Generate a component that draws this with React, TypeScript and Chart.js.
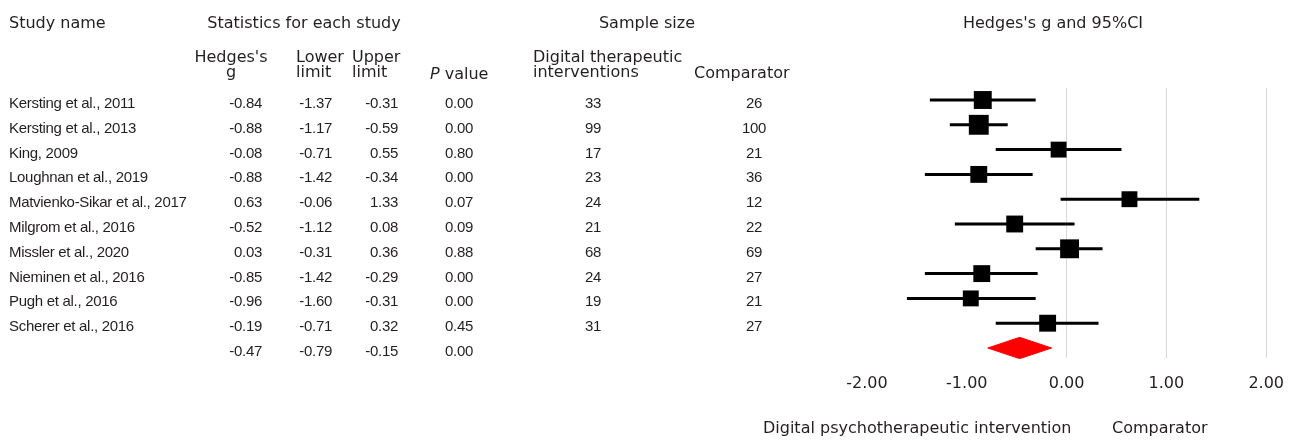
import React, { useEffect, useRef } from "react";
import { Chart, registerables } from "chart.js";

Chart.register(...registerables);

// ---------- data ----------
const studies = [
  "Kersting et al., 2011",
  "Kersting et al., 2013",
  "King, 2009",
  "Loughnan et al., 2019",
  "Matvienko-Sikar et al., 2017",
  "Milgrom et al., 2016",
  "Missler et al., 2020",
  "Nieminen et al., 2016",
  "Pugh et al., 2016",
  "Scherer et al., 2016",
];
const hedgesG = [-0.84, -0.88, -0.08, -0.88, 0.63, -0.52, 0.03, -0.85, -0.96, -0.19];
const lowerLimit = [-1.37, -1.17, -0.71, -1.42, -0.06, -1.12, -0.31, -1.42, -1.6, -0.71];
const upperLimit = [-0.31, -0.59, 0.55, -0.34, 1.33, 0.08, 0.36, -0.29, -0.31, 0.32];
const pValues = [0.0, 0.0, 0.8, 0.0, 0.07, 0.09, 0.88, 0.0, 0.0, 0.45];
const nDigital = [33, 99, 17, 23, 24, 21, 68, 24, 19, 31];
const nComparator = [26, 100, 21, 36, 12, 22, 69, 27, 21, 27];
// relative study weights (%)
const studyWeights = [10.8, 13.3, 8.5, 9.6, 8.5, 9.6, 12.0, 9.6, 8.5, 9.6];
const pooledG = -0.47;
const pooledLower = -0.79;
const pooledUpper = -0.15;
const pooledP = 0.0;
const xTicks = [-2, -1, 0, 1, 2];

// ---------- styles ----------
const INK = "#231f20";
const HEAD_FONT = '"DejaVu Sans", Verdana, Tahoma, sans-serif';
const BODY_FONT = '"Liberation Sans", Arial, sans-serif';
const ROW_H = 24.8;
const ROW0_TOP = 91;

function Txt(props: {
  x: number;
  y: number;
  align?: "left" | "center" | "right";
  lh?: number;
  body?: boolean;
  children: React.ReactNode;
}) {
  const { x, y, align = "left", lh = 16, body = false, children } = props;
  const transform =
    align === "center" ? "translateX(-50%)" : align === "right" ? "translateX(-100%)" : undefined;
  const fontStyle = body
    ? { fontFamily: BODY_FONT, fontSize: 15, letterSpacing: "-0.3px" }
    : { fontFamily: HEAD_FONT, fontSize: 16 };
  return (
    <div
      style={{
        position: "absolute",
        left: x,
        top: y,
        lineHeight: lh + "px",
        whiteSpace: "pre",
        textAlign: align,
        transform,
        color: INK,
        ...fontStyle,
      }}
    >
      {children}
    </div>
  );
}

export default function App() {
  const canvasRef = useRef<HTMLCanvasElement>(null);

  useEffect(() => {
    const pooledRow = studies.length;
    const ciData: { x: number; y: number }[] = [];
    studies.forEach((_, i) => {
      ciData.push({ x: lowerLimit[i], y: i });
      ciData.push({ x: upperLimit[i], y: i });
      ciData.push({ x: NaN, y: NaN });
    });
    const markerSide = (w: number) => Math.sqrt(w) * 5.45;

    const chart = new Chart(canvasRef.current as HTMLCanvasElement, {
      type: "scatter",
      data: {
        datasets: [
          {
            type: "scatter",
            label: "Hedges's g",
            data: hedgesG.map((g, i) => ({ x: g, y: i })),
            pointStyle: "rect",
            pointRadius: studyWeights.map((w) => markerSide(w) / Math.SQRT2),
            backgroundColor: "#000000",
            borderColor: "#000000",
            borderWidth: 0,
            order: 1,
            clip: false,
          } as any,
          {
            type: "line",
            label: "95% CI",
            data: ciData,
            borderColor: "#000000",
            borderWidth: 3,
            pointRadius: 0,
            spanGaps: false,
            fill: false,
            borderCapStyle: "butt",
            order: 2,
            clip: false,
          } as any,
          {
            type: "line",
            label: "Pooled",
            data: [
              { x: pooledLower, y: pooledRow },
              { x: pooledG, y: pooledRow - 0.43 },
              { x: pooledUpper, y: pooledRow },
              { x: pooledG, y: pooledRow + 0.43 },
              { x: pooledLower, y: pooledRow },
            ],
            borderColor: "#ff0000",
            backgroundColor: "#ff0000",
            borderWidth: 1,
            pointRadius: 0,
            tension: 0,
            fill: "shape",
            order: 3,
            clip: false,
          } as any,
        ],
      },
      options: {
        responsive: false,
        animation: false,
        events: [],
        layout: { padding: { left: 867, right: 33, top: 88, bottom: 31.8 } },
        plugins: {
          legend: { display: false },
          tooltip: { enabled: false },
          title: { display: false },
        },
        scales: {
          x: {
            type: "linear",
            position: "bottom",
            min: -2,
            max: 2,
            afterBuildTicks: (scale: any) => {
              scale.ticks = xTicks.map((v) => ({ value: v }));
            },
            ticks: {
              callback: (v: any) => Number(v).toFixed(2),
              font: { family: "DejaVu Sans", size: 16 },
              color: INK,
              padding: 16,
              maxRotation: 0,
              autoSkip: false,
            },
            grid: {
              color: (c: any) =>
                c.tick && c.tick.value >= 0 ? "#d9d9d9" : "rgba(0,0,0,0)",
              drawTicks: false,
              lineWidth: 1,
            },
            border: { display: false },
          },
          y: {
            type: "linear",
            reverse: true,
            min: -0.484,
            max: 10.403,
            display: false,
          },
        },
      } as any,
    });
    return () => chart.destroy();
  }, []);

  return (
    <div
      style={{
        position: "absolute",
        left: 0,
        top: 0,
        width: 1300,
        height: 441,
        background: "#ffffff",
        overflow: "hidden",
      }}
    >
      <canvas
        ref={canvasRef}
        width={1300}
        height={441}
        style={{ position: "absolute", left: 0, top: 0, width: 1300, height: 441 }}
      />

      {/* headers */}
      <Txt x={9} y={14.5}>Study name</Txt>
      <Txt x={304} y={14.5} align="center">Statistics for each study</Txt>
      <Txt x={647} y={14.5} align="center">Sample size</Txt>
      <Txt x={1053} y={14.5} align="center">Hedges's g and 95%CI</Txt>

      <Txt x={231} y={49} align="center" lh={15}>{"Hedges's\ng"}</Txt>
      <Txt x={296} y={49} lh={15}>{"Lower\nlimit"}</Txt>
      <Txt x={352} y={49} lh={15}>{"Upper\nlimit"}</Txt>
      <Txt x={430} y={65.5}>
        <i>P</i> value
      </Txt>
      <Txt x={533} y={49} lh={15}>{"Digital therapeutic\ninterventions"}</Txt>
      <Txt x={694} y={65}>Comparator</Txt>

      {/* study rows */}
      {studies.map((s, i) => {
        const top = ROW0_TOP + ROW_H * i;
        return (
          <React.Fragment key={s}>
            <Txt x={9} y={top} lh={ROW_H} body>{s}</Txt>
            <Txt x={262} y={top} lh={ROW_H} body align="right">{hedgesG[i].toFixed(2)}</Txt>
            <Txt x={332} y={top} lh={ROW_H} body align="right">{lowerLimit[i].toFixed(2)}</Txt>
            <Txt x={398} y={top} lh={ROW_H} body align="right">{upperLimit[i].toFixed(2)}</Txt>
            <Txt x={473} y={top} lh={ROW_H} body align="right">{pValues[i].toFixed(2)}</Txt>
            <Txt x={593} y={top} lh={ROW_H} body align="center">{String(nDigital[i])}</Txt>
            <Txt x={754} y={top} lh={ROW_H} body align="center">{String(nComparator[i])}</Txt>
          </React.Fragment>
        );
      })}
      {/* pooled row */}
      <Txt x={262} y={ROW0_TOP + ROW_H * studies.length} lh={ROW_H} body align="right">{pooledG.toFixed(2)}</Txt>
      <Txt x={332} y={ROW0_TOP + ROW_H * studies.length} lh={ROW_H} body align="right">{pooledLower.toFixed(2)}</Txt>
      <Txt x={398} y={ROW0_TOP + ROW_H * studies.length} lh={ROW_H} body align="right">{pooledUpper.toFixed(2)}</Txt>
      <Txt x={473} y={ROW0_TOP + ROW_H * studies.length} lh={ROW_H} body align="right">{pooledP.toFixed(2)}</Txt>

      {/* axis side labels */}
      <Txt x={763} y={419.5}>Digital psychotherapeutic intervention</Txt>
      <Txt x={1112} y={419.5}>Comparator</Txt>
    </div>
  );
}
